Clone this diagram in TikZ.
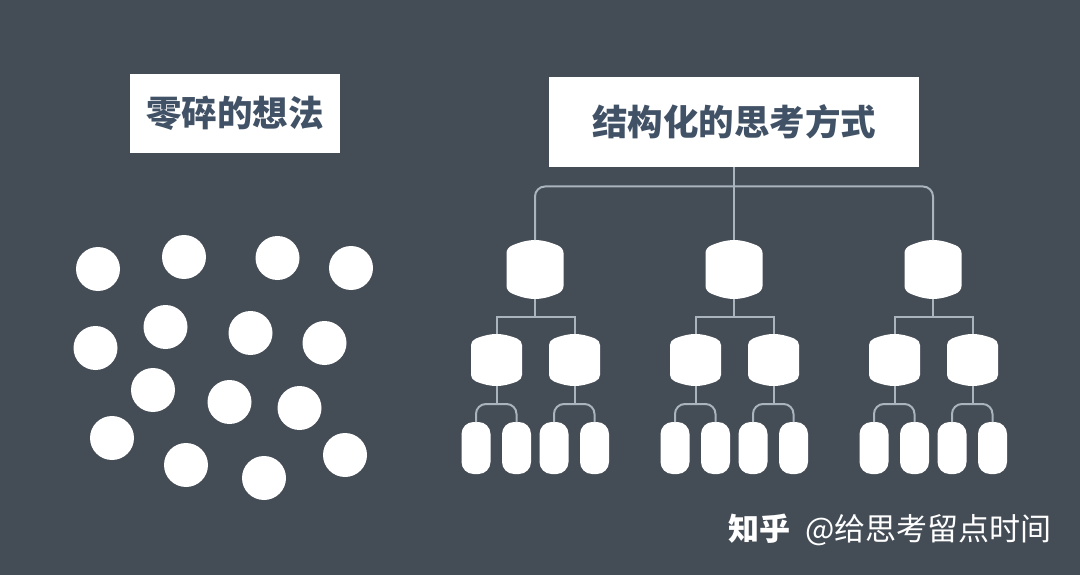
\documentclass[tikz,border=0pt]{standalone}
\usepackage{fontspec}
\setmainfont{Noto Sans CJK SC}
\definecolor{bgc}{HTML}{444C56}
\definecolor{ink}{HTML}{425266}
\definecolor{linec}{HTML}{A9B4BD}
\tikzset{
  titlebox/.style={fill=white,text=ink,font=\fontsize{35.5}{35.5}\selectfont\bfseries,inner sep=0pt,anchor=center},
  dot/.style={circle,fill=white,minimum size=44pt,inner sep=0pt},
  anchorbox/.style={inner sep=0pt,outer sep=0pt},
  pill/.style={anchorbox,fill=white,rounded corners=12pt,minimum width=29pt,minimum height=52pt},
  conn/.style={draw=linec,line width=2pt},
  curved/.style={conn,rounded corners=10pt},
}
% name, x, y, w, h, bulge, corner
\newcommand{\barrelnode}[7]{%
  \node[anchorbox,minimum width=#4pt,minimum height=#5pt] (#1) at (#2,#3) {};
  \pgfmathsetmacro{\hw}{#4/2}\pgfmathsetmacro{\hh}{#5/2}
  \pgfmathsetmacro{\sx}{\hw-#7}
  \pgfmathsetmacro{\sz}{\hh-#6-#7}
  \pgfmathsetmacro{\cx}{\hw-#7-#4*0.3}
  \pgfmathsetmacro{\cy}{\hh+#6*0.25}
  \pgfmathsetmacro{\ey}{\hh-#6*0.75}
  \pgfmathsetmacro{\kx}{\sx+0.6*#7}
  \pgfmathsetmacro{\ky}{\ey-0.6*#7*#6/(#4*0.3)}
  \pgfmathsetmacro{\jy}{\sz+0.55*#7}
  \fill[white,shift={(#2,#3)}]
    (-\hw,-\sz) .. controls (-\hw,-\jy) and (-\kx,-\ky) .. (-\sx,-\ey)
    .. controls (-\cx,-\cy) and (\cx,-\cy) .. (\sx,-\ey)
    .. controls (\kx,-\ky) and (\hw,-\jy) .. (\hw,-\sz)
    -- (\hw,\sz)
    .. controls (\hw,\jy) and (\kx,\ky) .. (\sx,\ey)
    .. controls (\cx,\cy) and (-\cx,\cy) .. (-\sx,\ey)
    .. controls (-\kx,\ky) and (-\hw,\jy) .. (-\hw,\sz)
    -- cycle;
}
\newcommand{\branch}[2]{% prefix, x
  \pgfmathsetmacro{\ba}{#2-38.5}\pgfmathsetmacro{\bb}{#2+39.5}
  \pgfmathsetmacro{\ca}{#2-59}\pgfmathsetmacro{\cb}{#2-18.5}
  \pgfmathsetmacro{\cc}{#2+19}\pgfmathsetmacro{\cd}{#2+59.5}
  \barrelnode{#1a}{\ba}{360}{51}{52}{6}{5}
  \barrelnode{#1b}{\bb}{360}{51}{52}{6}{5}
  \barrelnode{#1}{#2}{269.5}{57}{59}{7}{6}
  \node[pill] (#1aa) at (\ca,448) {};
  \node[pill] (#1ab) at (\cb,448) {};
  \node[pill] (#1ba) at (\cc,448) {};
  \node[pill] (#1bb) at (\cd,448) {};
  \draw[conn] (#1.south) -- (#1.south |- 0,316.5);
  \draw[conn] (#1a.north) |- (#1.south |- 0,316.5) -| (#1b.north);
  \draw[conn] (#1a.south) -- (#1a.south |- 0,404);
  \draw[conn] (#1b.south) -- (#1b.south |- 0,404);
  \draw[curved] (#1aa.north) |- (#1a.south |- 0,404) -| (#1ab.north);
  \draw[curved] (#1ba.north) |- (#1b.south |- 0,404) -| (#1bb.north);
}
\begin{document}
\begin{tikzpicture}[x=1pt,y=-1pt]
\useasboundingbox (0,0) rectangle (1080,575);
\fill[bgc] (0,0) rectangle (1080,575);
\node[titlebox,minimum width=210pt,minimum height=79pt] (left) at (235,113.5) {零碎的想法};
\node[titlebox,minimum width=370pt,minimum height=90pt] (right) at (734,122) {结构化的思考方式};
\branch{p}{535}
\branch{q}{734}
\branch{r}{933}
\draw[conn] (right.south) -- (q.north);
\draw[curved] (p.north) |- (q.north |- 0,186.5) -| (r.north);
\foreach \n/\x/\y in {a/98/269,b/184/257,c/277.5/258,d/351/268,e/95.5/348,f/165.5/327,g/250.5/333,h/324.5/343,i/153/390,j/229.5/402,k/299.5/408,l/112/438,m/186/465,n/264/478,o/345/455}
  \node[dot] (\n) at (\x,\y) {};
\node[text=white,font=\fontsize{31}{31}\selectfont,inner sep=0pt,anchor=west] (mark) at (728,530) {\textbf{知乎}\hspace{8pt} @给思考留点时间};
\end{tikzpicture}
\end{document}
